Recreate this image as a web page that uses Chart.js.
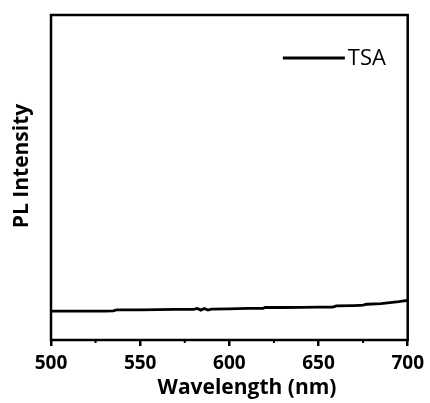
<!DOCTYPE html>
<html>
<head>
<meta charset="utf-8">
<script src="https://cdn.jsdelivr.net/npm/chart.js@4"></script>
<style>
  html, body { margin: 0; padding: 0; background: #fff; }
  #wrap { width: 430px; height: 403px; }
</style>
</head>
<body>
<div id="wrap"><canvas id="c" width="430" height="403"></canvas></div>
<script>
/* PL spectrum of TSA (arbitrary intensity units). */
const wavelengths = [500, 510, 520, 530, 535, 537, 550, 560, 570, 580, 582, 584, 586, 588, 590,
                     600, 610, 619, 620, 630, 640, 650, 658, 660, 670, 675, 677, 685, 690, 695, 700];
const intensity   = [8.9, 8.9, 8.9, 8.9, 8.95, 9.3, 9.3, 9.35, 9.4, 9.45, 9.7, 9.2, 9.7, 9.2, 9.5,
                     9.6, 9.7, 9.75, 10.0, 10.0, 10.05, 10.1, 10.1, 10.5, 10.6, 10.7, 11.0, 11.2, 11.5, 11.8, 12.2];
const xTicks      = [500, 550, 600, 650, 700];
const minorTicks  = [525, 575, 625, 675];
const seriesLabel = 'TSA';
const xTitle      = 'Wavelength (nm)';
const yTitle      = 'PL Intensity';

const FONT = "'Open Sans', 'Noto Sans', sans-serif";

/* Marco negro, ticks menores, títulos y leyenda dentro del área. */
const framePlugin = {
  id: 'frame',
  afterDraw(chart) {
    const { ctx, chartArea: a, scales } = chart;
    ctx.save();
    ctx.strokeStyle = '#000';
    ctx.fillStyle = '#000';
    ctx.lineWidth = 2.5;
    ctx.strokeRect(a.left, a.top, a.right - a.left, a.bottom - a.top);

    ctx.lineWidth = 2;
    minorTicks.forEach(v => {
      const x = scales.x.getPixelForValue(v);
      ctx.beginPath();
      ctx.moveTo(x, a.bottom);
      ctx.lineTo(x, a.bottom + 3);
      ctx.stroke();
    });

    // títulos de ejes (en el original van algo descentrados)
    ctx.font = `bold 21px ${FONT}`;
    ctx.textAlign = 'center';
    ctx.textBaseline = 'middle';
    ctx.fillText(xTitle, 247, 388);
    ctx.save();
    ctx.translate(22, 166);
    ctx.rotate(-Math.PI / 2);
    ctx.fillText(yTitle, 0, 0);
    ctx.restore();

    // leyenda
    const lx = scales.x.getPixelForValue(630), ly = a.top + 43;
    ctx.lineWidth = 2.8;
    ctx.beginPath();
    ctx.moveTo(lx, ly);
    ctx.lineTo(lx + 62, ly);
    ctx.stroke();
    ctx.font = `22px ${FONT}`;
    ctx.textAlign = 'left';
    ctx.fillText(seriesLabel, lx + 65, ly + 1);
    ctx.restore();
  },
};

new Chart(document.getElementById('c').getContext('2d'), {
  type: 'line',
  data: {
    datasets: [{
      label: seriesLabel,
      data: wavelengths.map((w, i) => ({ x: w, y: intensity[i] })),
      borderColor: '#000',
      borderWidth: 2.8,
      pointRadius: 0,
      tension: 0,
      fill: false,
    }],
  },
  options: {
    responsive: false,
    animation: false,
    layout: { padding: { top: 15, right: 22, bottom: 0, left: 0 } },
    plugins: { legend: { display: false }, tooltip: { enabled: false } },
    scales: {
      x: {
        type: 'linear', min: 500, max: 700,
        afterBuildTicks: (s) => { s.ticks = xTicks.map(v => ({ value: v })); },
        afterFit: (s) => { s.height = 63; },
        border: { display: false },
        grid: { drawOnChartArea: false, color: '#000', lineWidth: 2.5, tickLength: 6 },
        ticks: {
          color: '#000', padding: 6, maxRotation: 0,
          font: { family: FONT, size: 19, weight: 'bold' },
        },
      },
      y: {
        min: 0, max: 100,
        afterFit: (s) => { s.width = 51; },
        border: { display: false },
        grid: { display: false },
        ticks: { display: false },
      },
    },
  },
  plugins: [framePlugin],
});
</script>
</body>
</html>
